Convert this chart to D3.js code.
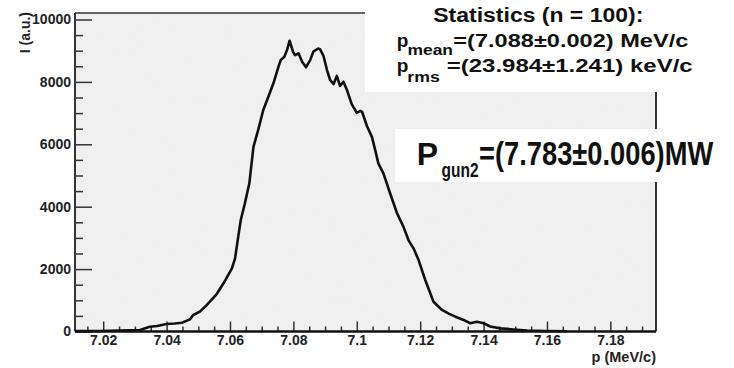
<!DOCTYPE html>
<html>
<head>
<meta charset="utf-8">
<script src="https://cdn.jsdelivr.net/npm/d3@7"></script>
<style>
    body { margin: 0; background: #fff; }
    svg { display: block; font-family: "Liberation Sans", Arial, Helvetica, sans-serif; font-weight: bold; }
</style>
</head>
<body>
<div id="chart"></div>
<script>
// momentum (MeV/c) and intensity (a.u.)
const momentum = [7.0111, 7.019, 7.0253, 7.0316, 7.0347, 7.037, 7.04, 7.0426, 7.0448, 7.0474, 7.0484,
    7.0505, 7.0527, 7.0558, 7.0584, 7.0606, 7.0616, 7.0626, 7.0634, 7.0647, 7.0661, 7.0674, 7.0689,
    7.0705, 7.0721, 7.0737, 7.0753, 7.076, 7.0771, 7.078, 7.0788, 7.0799, 7.0805, 7.0816, 7.0828,
    7.084, 7.0853, 7.0863, 7.0878, 7.0884, 7.0895, 7.0906, 7.0916, 7.0927, 7.0937, 7.0947, 7.0958,
    7.0969, 7.0984, 7.1, 7.1011, 7.1017, 7.1032, 7.1048, 7.1058, 7.1068, 7.1084, 7.1105, 7.1127,
    7.1147, 7.1163, 7.1179, 7.1195, 7.1216, 7.1242, 7.1269, 7.129, 7.1311, 7.1337, 7.1358, 7.1379,
    7.14, 7.1421, 7.1453, 7.1495, 7.1537, 7.1595, 7.1663];
const intensity = [15, 15, 30, 50, 150, 175, 240, 255, 280, 390, 530,
    635, 850, 1200, 1620, 2025, 2345, 3040, 3575, 4110, 4750, 5920, 6460,
    7100, 7525, 7955, 8490, 8700, 8800, 9020, 9320, 8960, 8860, 8915, 8640,
    8470, 8700, 8970, 9070, 9050, 8830, 8380, 8060, 7930, 8190, 7870, 8005,
    7740, 7290, 7010, 7070, 7035, 6585, 6230, 5820, 5390, 5070, 4430, 3790,
    3360, 2930, 2665, 2290, 1650, 955, 690, 575, 475, 370, 265, 310,
    265, 160, 100, 65, 30, 15, 10];

const xMajorTicks = [7.02, 7.04, 7.06, 7.08, 7.1, 7.12, 7.14, 7.16, 7.18];
const xTickLabels = ['7.02', '7.04', '7.06', '7.08', '7.1', '7.12', '7.14', '7.16', '7.18'];
const yMajorTicks = [0, 2000, 4000, 6000, 8000, 10000];
const xDomain = [7.0111, 7.1944];
const yDomain = [0, 10208];

const margin = { top: 13, right: 78, bottom: 36.5, left: 75 };
const totalWidth = 734;
const totalHeight = 368;
const width = totalWidth - margin.left - margin.right;
const height = totalHeight - margin.top - margin.bottom;

const svg = d3.select('#chart').append('svg')
    .attr('width', totalWidth)
    .attr('height', totalHeight);

// faint grain like the scanned pad
const grain = svg.append('defs').append('filter').attr('id', 'grain');
grain.append('feTurbulence').attr('type', 'fractalNoise').attr('baseFrequency', 0.9).attr('numOctaves', 1).attr('result', 'n');
grain.append('feColorMatrix').attr('in', 'n').attr('type', 'matrix')
    .attr('values', '0 0 0 0 0.85  0 0 0 0 0.85  0 0 0 0 0.85  0 0 0 0.35 0');
grain.append('feComposite').attr('in2', 'SourceGraphic').attr('operator', 'in');

const g = svg.append('g')
    .attr('transform', `translate(${margin.left},${margin.top})`);

const x = d3.scaleLinear().domain(xDomain).range([0, width]);
const y = d3.scaleLinear().domain(yDomain).range([height, 0]);

// plot pad
g.append('rect')
    .attr('width', width)
    .attr('height', height)
    .attr('fill', '#f0f0f0');
g.append('rect')
    .attr('width', width)
    .attr('height', height)
    .attr('fill', '#f0f0f0')
    .attr('filter', 'url(#grain)');

// minor ticks (ROOT style: 4 subdivisions)
const xMinor = d3.range(7.015, 7.1944, 0.005).filter(v => !xMajorTicks.some(t => Math.abs(t - v) < 1e-6));
const yMinor = d3.range(500, 10208, 500).filter(v => v % 2000 !== 0);

g.append('g')
    .attr('transform', `translate(0,${height})`)
    .call(d3.axisBottom(x).tickValues(xMinor).tickSize(-5).tickFormat(''))
    .call(a => a.select('.domain').remove())
    .selectAll('line').attr('stroke', '#333').attr('stroke-width', 1.5);

g.append('g')
    .call(d3.axisLeft(y).tickValues(yMinor).tickSize(-8).tickFormat(''))
    .call(a => a.select('.domain').remove())
    .selectAll('line').attr('stroke', '#333').attr('stroke-width', 1.5);

// major ticks + labels
const xAxis = g.append('g')
    .attr('transform', `translate(0,${height})`)
    .call(d3.axisBottom(x).tickValues(xMajorTicks).tickSize(-10).tickPadding(3.5)
        .tickFormat((d, i) => xTickLabels[i]))
    .call(a => a.select('.domain').remove());
xAxis.selectAll('line').attr('stroke', '#333').attr('stroke-width', 1.5);
xAxis.selectAll('text')
    .attr('font-size', 14).attr('font-family', 'inherit').attr('font-weight', 'bold').attr('fill', '#222');

const yAxis = g.append('g')
    .call(d3.axisLeft(y).tickValues(yMajorTicks).tickSize(-17).tickPadding(4).tickFormat(d3.format('d')))
    .call(a => a.select('.domain').remove());
yAxis.selectAll('line').attr('stroke', '#333').attr('stroke-width', 1.5);
yAxis.selectAll('text')
    .attr('font-size', 14).attr('font-family', 'inherit').attr('font-weight', 'bold').attr('fill', '#222');

// frame
g.append('line').attr('x1', 0).attr('x2', width).attr('y1', 0).attr('y2', 0)
    .attr('stroke', '#666').attr('stroke-width', 2);
g.append('line').attr('x1', width).attr('x2', width).attr('y1', 0).attr('y2', height)
    .attr('stroke', '#333').attr('stroke-width', 2);
g.append('line').attr('x1', 0).attr('x2', 0).attr('y1', 0).attr('y2', height)
    .attr('stroke', '#333').attr('stroke-width', 2);

// spectrum
const spectrum = d3.line()
    .x((d, i) => x(momentum[i]))
    .y(d => y(d));
g.append('path')
    .attr('d', spectrum(intensity))
    .attr('fill', 'none')
    .attr('stroke', '#111')
    .attr('stroke-width', 2.6)
    .attr('stroke-linejoin', 'round');

g.append('line').attr('x1', 0).attr('x2', width).attr('y1', height).attr('y2', height)
    .attr('stroke', '#111').attr('stroke-width', 2.5);

// axis titles
svg.append('text')
    .attr('transform', 'translate(30,12) rotate(-90)')
    .attr('text-anchor', 'end')
    .attr('font-size', 14)
    .attr('fill', '#222')
    .text('I (a.u.)');
svg.append('text')
    .attr('x', margin.left + width)
    .attr('y', 361.5)
    .attr('text-anchor', 'end')
    .attr('font-size', 14.5)
    .attr('fill', '#222')
    .text('p (MeV/c)');

// statistics box
svg.append('rect')
    .attr('x', 365).attr('y', 0)
    .attr('width', totalWidth - 365).attr('height', 92)
    .attr('fill', '#fff');

function label(xPos, yPos, size, len, txt) {
    const t = svg.append('text')
        .attr('x', xPos).attr('y', yPos)
        .attr('font-size', size)
        .attr('fill', '#111')
        .text(txt);
    if (len) t.attr('textLength', len).attr('lengthAdjust', 'spacingAndGlyphs');
    return t;
}

// text squeezed horizontally, drawn at its baseline
function tallLabel(xPos, yPos, size, stretch, txt) {
    return svg.append('text')
        .attr('transform', `translate(${xPos},${yPos}) scale(1,${stretch})`)
        .attr('font-size', size)
        .attr('fill', '#111')
        .text(txt);
}

label(433.3, 21.7, 20, 210, 'Statistics (n = 100):');
label(396.7, 46.7, 19, null, 'p');
label(407.5, 55, 14, 45.5, 'mean');
label(453.3, 46.7, 18.7, 235, '=(7.088\u00b10.002) MeV/c');
label(396.7, 71.7, 19, null, 'p');
label(407.3, 81.5, 14, 32.5, 'rms');
label(446.7, 71.7, 18.7, 246, '=(23.984\u00b11.241) keV/c');

// gun power box
svg.append('rect')
    .attr('x', 395).attr('y', 129)
    .attr('width', 332).attr('height', 53)
    .attr('fill', '#fff');
tallLabel(416.7, 165, 32, 1, 'P');
tallLabel(441.5, 177.3, 15.5, 1.25, 'gun2');
tallLabel(479, 165, 27.3, 1.2, '=(7.783\u00b10.006)MW');
</script>
</body>
</html>
